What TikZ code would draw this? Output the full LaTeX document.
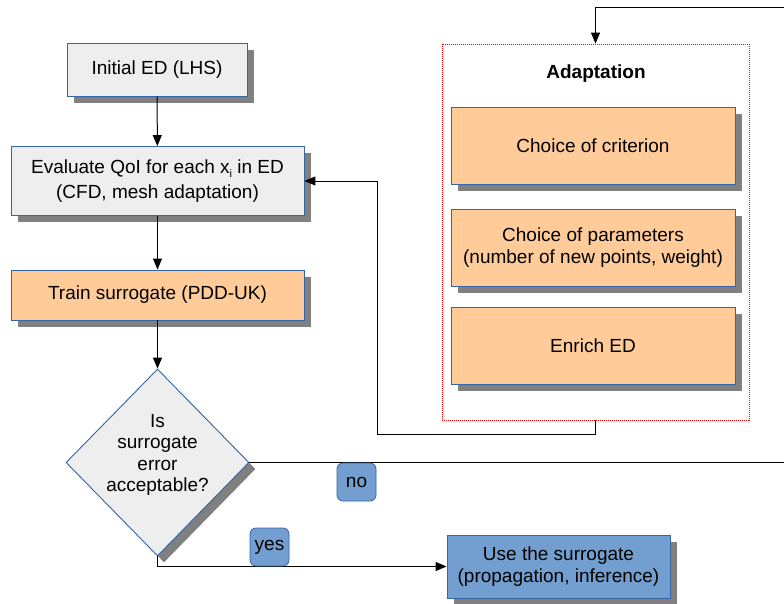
\documentclass[tikz,border=0pt]{standalone}
\usepackage{fontspec}
\setmainfont{Liberation Sans}
\usetikzlibrary{shapes.geometric,shadows,arrows.meta}
\definecolor{boxgray}{HTML}{EEEEEE}
\definecolor{boxline}{HTML}{3465A4}
\definecolor{boxorange}{HTML}{FFCC99}
\definecolor{boxblue}{HTML}{729FCF}
\definecolor{shadowgray}{HTML}{808080}
\begin{document}
\begin{tikzpicture}[x=1pt,y=-1pt,every node/.style={font=\fontsize{19}{21.5}\selectfont,align=center,inner sep=0pt},
  box/.style={draw=boxline,line width=0.9pt,drop shadow={shadow xshift=6.5pt,shadow yshift=-6.5pt,fill=shadowgray,opacity=1}},
  flow/.style={line width=1pt,-{Triangle[length=11pt,width=9pt]}},
  tag/.style={draw=boxline,line width=0.8pt,fill=boxblue,rounded corners=6pt,minimum width=39pt,minimum height=38pt}]
\useasboundingbox (0,0) rectangle (784,603);
% Main chain
\node[box,fill=boxgray,minimum width=180pt,minimum height=53pt] (init) at (157,69.5) {Initial ED (LHS)};
\node[box,fill=boxgray,minimum width=293pt,minimum height=69pt] (eval) at (157.5,181) {Evaluate QoI for each x\raisebox{-4pt}{\fontsize{11}{11}\selectfont i} in ED\\[4pt](CFD, mesh adaptation)};
\node[box,fill=boxorange,minimum width=293pt,minimum height=50pt] (train) at (157.5,295) {Train surrogate (PDD-UK)};
\node[box,diamond,fill=boxgray,minimum width=183pt,minimum height=187pt] (check) at (157.5,462.5) {};
\node (checktxt) at (157.5,455) {Is\\surrogate\\error\\acceptable?};
\node[box,fill=boxblue,minimum width=223pt,minimum height=63pt] (use) at (558.5,566.5) {Use the surrogate\\(propagation, inference)};
% Adaptation frame (red dotted)
\node[draw=red,line width=0.8pt,dash pattern=on 1pt off 1pt,minimum width=307pt,minimum height=376pt] (adapt) at (595.5,232) {};
\node[font=\fontsize{19}{21.5}\selectfont\bfseries,anchor=base] (adapttitle) at (596,78) {Adaptation};
\node[box,fill=boxorange,minimum width=284pt,minimum height=77pt] (crit) at (593,145.5) {Choice of criterion};
\node[box,fill=boxorange,minimum width=284pt,minimum height=77pt] (param) at (593,247.5) {Choice of parameters\\(number of new points, weight)};
\node[box,fill=boxorange,minimum width=284pt,minimum height=77pt] (enrich) at (593,345.5) {Enrich ED};
% Connectors
\draw[flow] (init) -- (eval);
\draw[flow] (eval) -- (train);
\draw[flow] (train) -- (check);
\coordinate (loop) at (377,434);
\draw[flow] (adapt.south) |- (loop) |- (eval.east);
\coordinate (noright) at (800,462.5);
\coordinate (notop) at (800,7);
\draw[flow] (check.east) -- (noright) -- (notop) -| (adapt.north);
\draw[flow] (check.south) |- (use.west);
% Labels
\node[tag] (no) at (356.5,482) {no};
\node[tag] (yes) at (269.5,547) {yes};
\end{tikzpicture}
\end{document}
